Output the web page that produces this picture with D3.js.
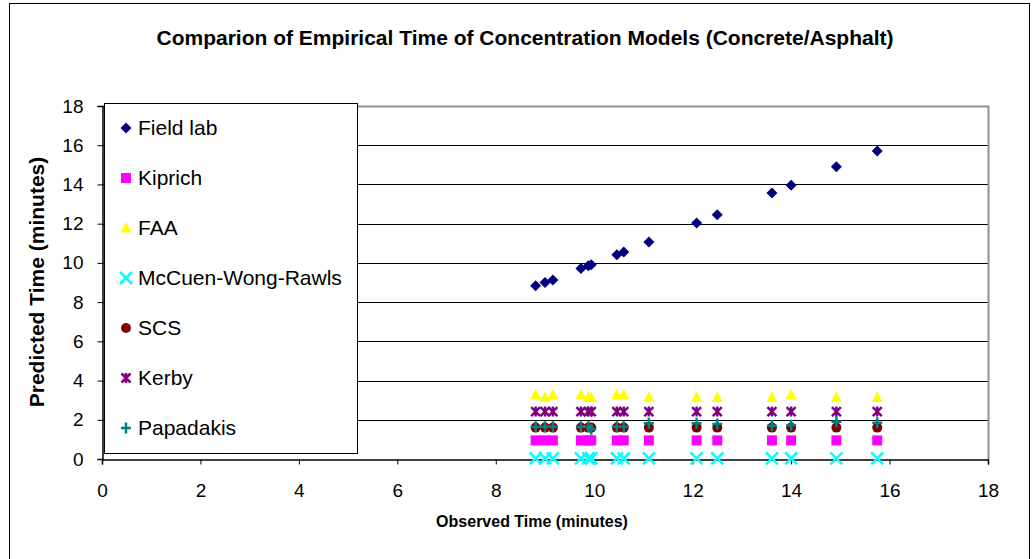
<!DOCTYPE html>
<html>
<head>
<meta charset="utf-8">
<script src="https://cdn.jsdelivr.net/npm/d3@7"></script>
<style>
  body { margin: 0; background: #fff; }
  text { font-family: Arial, "Liberation Sans", sans-serif; }
</style>
</head>
<body>
<div id="chart"></div>
<script>
// observed time (minutes) for each measured event
const observed = [8.81, 9.0, 9.16, 9.73, 9.88, 9.94, 10.46, 10.6, 11.11, 12.08, 12.5, 13.61, 14.0, 14.92, 15.75];

const fieldLab  = [8.83, 9.0, 9.13, 9.71, 9.85, 9.91, 10.42, 10.55, 11.07, 12.04, 12.46, 13.57, 13.96, 14.9, 15.71];
const kiprich   = [0.95, 0.95, 0.95, 0.95, 0.95, 0.95, 0.95, 0.95, 0.95, 0.95, 0.95, 0.95, 0.95, 0.95, 0.95];
const faa       = [3.27, 3.13, 3.27, 3.27, 3.13, 3.13, 3.27, 3.27, 3.15, 3.13, 3.13, 3.13, 3.27, 3.13, 3.13];
const mccuen    = [0.03, 0.03, 0.03, 0.03, 0.03, 0.03, 0.03, 0.03, 0.03, 0.03, 0.03, 0.03, 0.03, 0.03, 0.03];
const scs       = [1.6, 1.6, 1.6, 1.6, 1.6, 1.6, 1.6, 1.6, 1.6, 1.6, 1.6, 1.6, 1.6, 1.6, 1.6];
const kerby     = [2.42, 2.42, 2.42, 2.42, 2.42, 2.42, 2.42, 2.42, 2.42, 2.42, 2.42, 2.42, 2.42, 2.42, 2.42];
const papadakis = [1.65, 1.65, 1.65, 1.65, 1.65, 1.52, 1.65, 1.65, 1.82, 1.82, 1.78, 1.7, 1.72, 1.9, 1.85];

const xTicks = [0, 2, 4, 6, 8, 10, 12, 14, 16, 18];
const yTicks = [0, 2, 4, 6, 8, 10, 12, 14, 16, 18];

const seriesList = [
  { name: 'Field lab', values: fieldLab, color: '#000080', shape: 'diamond' },
  { name: 'Kiprich', values: kiprich, color: '#FF00FF', shape: 'square' },
  { name: 'FAA', values: faa, color: '#FFFF00', shape: 'triangle' },
  { name: 'McCuen-Wong-Rawls', values: mccuen, color: '#00FFFF', shape: 'x' },
  { name: 'SCS', values: scs, color: '#800000', shape: 'circle' },
  { name: 'Kerby', values: kerby, color: '#800080', shape: 'star' },
  { name: 'Papadakis', values: papadakis, color: '#008080', shape: 'plus' }
];

const width = 1032, height = 559;
const plot = { left: 102, right: 988, top: 106, bottom: 459 };

const svg = d3.select('#chart').append('svg')
  .attr('width', width)
  .attr('height', height);

// outer chart border
svg.append('rect')
  .attr('x', 9.5).attr('y', 3.5)
  .attr('width', 1020).attr('height', 556)
  .attr('fill', '#fff').attr('stroke', '#000');

const x = d3.scaleLinear().domain([0, 18]).range([plot.left, plot.right]);
const y = d3.scaleLinear().domain([0, 18]).range([plot.bottom, plot.top]);

// gridlines
svg.append('g').selectAll('line')
  .data(yTicks.filter(d => d > 0 && d < 18))
  .enter().append('line')
  .attr('x1', plot.left).attr('x2', plot.right)
  .attr('y1', d => Math.round(y(d)) + 0.5).attr('y2', d => Math.round(y(d)) + 0.5)
  .attr('stroke', '#000').attr('stroke-width', 1);

// plot area border (grey top/right)
svg.append('path')
  .attr('d', `M${plot.left},${plot.top + 0.5}H${plot.right + 0.5}V${plot.bottom}`)
  .attr('fill', 'none').attr('stroke', '#909090').attr('stroke-width', 2);

// axes
const xAxis = svg.append('g')
  .attr('transform', `translate(0,${plot.bottom + 0.5})`)
  .call(d3.axisBottom(x).tickValues(xTicks).tickSize(5).tickPadding(19));
const yAxis = svg.append('g')
  .attr('transform', `translate(${plot.left + 0.5},0)`)
  .call(d3.axisLeft(y).tickValues(yTicks).tickSize(5).tickPadding(14));

[xAxis, yAxis].forEach(a => {
  a.select('.domain').attr('stroke', '#000').attr('stroke-width', 1.5);
  a.selectAll('.tick line').attr('stroke', '#000');
  a.selectAll('.tick text')
    .attr('font-size', 19)
    .attr('font-family', 'Arial, "Liberation Sans", sans-serif')
    .attr('fill', '#000');
});

// marker drawing
function drawMarker(g, shape, color) {
  switch (shape) {
    case 'diamond':
      g.append('path').attr('d', 'M0,-5.5L5.5,0L0,5.5L-5.5,0Z').attr('fill', color);
      break;
    case 'square':
      g.append('rect').attr('x', -5).attr('y', -5).attr('width', 10).attr('height', 10).attr('fill', color);
      break;
    case 'triangle':
      g.append('path').attr('d', 'M0,-6L5.5,4.5L-5.5,4.5Z').attr('fill', color);
      break;
    case 'x':
      g.append('path').attr('d', 'M-6,-6L6,6M-6,6L6,-6').attr('stroke', color).attr('stroke-width', 2.5).attr('fill', 'none');
      break;
    case 'circle':
      g.append('circle').attr('r', 5).attr('fill', color);
      break;
    case 'star':
      g.append('path').attr('d', 'M-4.5,-4.5L4.5,4.5M-4.5,4.5L4.5,-4.5M0,-5L0,5').attr('stroke', color).attr('stroke-width', 2.5).attr('fill', 'none');
      break;
    case 'plus':
      g.append('path').attr('d', 'M-5,0L5,0M0,-5.5L0,5.5').attr('stroke', color).attr('stroke-width', 2.5).attr('fill', 'none');
      break;
  }
}

// data points
seriesList.forEach(s => {
  const grp = svg.append('g').attr('class', 'series');
  grp.selectAll('g')
    .data(s.values.map((v, i) => ({ x: observed[i], y: v })))
    .enter().append('g')
    .attr('transform', d => `translate(${x(d.x)},${y(d.y)})`)
    .each(function () { drawMarker(d3.select(this), s.shape, s.color); });
});

// legend
const legend = svg.append('g');
legend.append('rect')
  .attr('x', 104.5).attr('y', 103.5)
  .attr('width', 253).attr('height', 350)
  .attr('fill', '#fff').attr('stroke', '#000');

seriesList.forEach((s, i) => {
  const ly = 128 + i * 50;
  const item = legend.append('g').attr('transform', `translate(126,${ly})`);
  drawMarker(item, s.shape, s.color);
  legend.append('text')
    .attr('x', 138).attr('y', ly + 7)
    .attr('font-size', 21)
    .attr('fill', '#000')
    .text(s.name);
});

// titles
svg.append('text')
  .attr('x', 525).attr('y', 45)
  .attr('text-anchor', 'middle')
  .attr('font-size', 21).attr('font-weight', 'bold')
  .text('Comparion of Empirical Time of Concentration Models (Concrete/Asphalt)');

svg.append('text')
  .attr('x', 532).attr('y', 527)
  .attr('text-anchor', 'middle')
  .attr('font-size', 16).attr('font-weight', 'bold')
  .text('Observed Time (minutes)');

svg.append('text')
  .attr('transform', 'translate(44,282) rotate(-90)')
  .attr('text-anchor', 'middle')
  .attr('font-size', 21).attr('font-weight', 'bold')
  .text('Predicted Time (minutes)');
</script>
</body>
</html>
